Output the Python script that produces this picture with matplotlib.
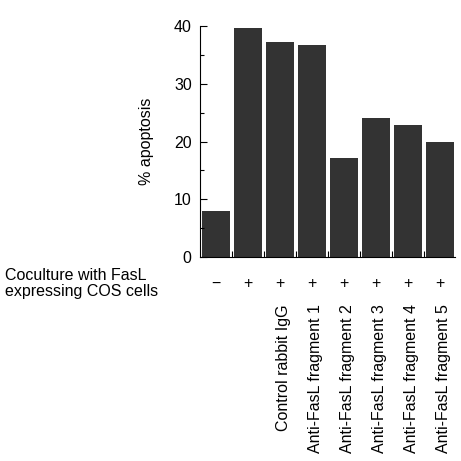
import matplotlib.pyplot as plt
from matplotlib.ticker import MultipleLocator

plt.rcParams["font.family"] = ["Liberation Sans", "DejaVu Sans"]

# data
values = [7.9, 39.6, 37.2, 36.7, 17.1, 24.0, 22.8, 20.0]
coculture = ["\u2212", "+", "+", "+", "+", "+", "+", "+"]
treatments = ["", "", "Control rabbit IgG", "Anti-FasL fragment 1",
              "Anti-FasL fragment 2", "Anti-FasL fragment 3",
              "Anti-FasL fragment 4", "Anti-FasL fragment 5"]

fs = 11.5

fig = plt.figure(figsize=(4.61, 4.61), dpi=100)
ax = fig.add_axes([0.434, 0.4425, 0.553, 0.501])

x = range(len(values))
ax.bar(x, values, width=0.89, color="#333333")

ax.set_xlim(-0.5, 7.47)
ax.set_ylim(0, 40)
ax.spines["top"].set_visible(False)
ax.spines["right"].set_visible(False)
for s in ("left", "bottom"):
    ax.spines[s].set_linewidth(0.8)

ax.yaxis.set_major_locator(MultipleLocator(10))
ax.yaxis.set_minor_locator(MultipleLocator(5))
ax.tick_params(axis="y", direction="in", length=5, width=0.8, labelsize=fs, pad=6)
ax.tick_params(axis="y", which="minor", direction="in", length=3, width=0.8)
ax.set_xticks([i + 0.5 for i in range(len(values) - 1)])
ax.tick_params(axis="x", direction="in", length=4, width=0.8, labelbottom=False)
ax.set_ylabel("% apoptosis", fontsize=fs, labelpad=14)

trans = ax.get_xaxis_transform()
for i, (sign, lab) in enumerate(zip(coculture, treatments)):
    ax.text(i, -0.115, sign, transform=trans, ha="center", va="center", fontsize=fs)
    if lab:
        ax.text(i + 0.1, -0.205, lab, transform=trans, ha="center", va="top",
                rotation=90, fontsize=fs)

fig.text(0.011, 0.385, "Coculture with FasL\nexpressing COS cells",
         ha="left", va="center", fontsize=fs, linespacing=1.15)

fig.savefig("out.png", dpi=100)
